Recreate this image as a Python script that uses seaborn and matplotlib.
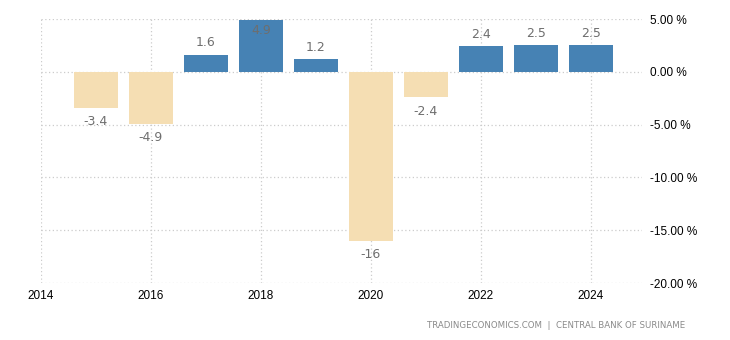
import matplotlib
matplotlib.use("Agg")
import matplotlib.pyplot as plt
import seaborn as sns
import pandas as pd
from matplotlib.ticker import FuncFormatter, MultipleLocator

years = [2015, 2016, 2017, 2018, 2019, 2020, 2021, 2022, 2023, 2024]
values = [-3.4, -4.9, 1.6, 4.9, 1.2, -16, -2.4, 2.4, 2.5, 2.5]
labels = ["-3.4", "-4.9", "1.6", "4.9", "1.2", "-16", "-2.4", "2.4", "2.5", "2.5"]
xticks = [2014, 2016, 2018, 2020, 2022, 2024]
source = "TRADINGECONOMICS.COM  |  CENTRAL BANK OF SURINAME"

sns.set_style("white")
plt.rcParams['font.family'] = ['DejaVu Sans']

df = pd.DataFrame({"year": years, "value": values})
df["sign"] = ["pos" if v >= 0 else "neg" for v in values]

fig = plt.figure(figsize=(7.3, 3.4), dpi=100)
ax = fig.add_axes([41/730, 1-283/340, (642-41)/730, (283-19)/340])

sns.barplot(data=df, x="year", y="value", hue="sign", native_scale=True,
            palette={"pos": "#4682B4", "neg": "#F5DEB3"}, dodge=False,
            width=0.8, legend=False, ax=ax, saturation=1, zorder=2,
            linewidth=0, edgecolor="none")

ax.set_xlim(2014, 2024.93)
ax.set_ylim(-20, 5)
ax.set_xticks(xticks)
ax.set_xticklabels([str(x) for x in xticks])
ax.yaxis.set_major_locator(MultipleLocator(5))
ax.yaxis.set_major_formatter(FuncFormatter(lambda v, p: f"{v:.2f} %"))
ax.yaxis.tick_right()
ax.set_xlabel("")
ax.set_ylabel("")
for s in ax.spines.values():
    s.set_visible(False)
ax.grid(True, color="#cccccc", linestyle=(0, (1, 2)), linewidth=0.9, zorder=0)
ax.set_axisbelow(True)
ax.tick_params(axis="both", length=0, colors="#000000")
ax.tick_params(axis="y", pad=6)
ax.tick_params(axis="x", pad=5)
for t in ax.get_xticklabels() + ax.get_yticklabels():
    t.set_fontfamily("Liberation Sans")
    t.set_fontsize(8.5)

ppu = (283-19)/25.0  # pixels per unit
for yr, v, lab in zip(years, values, labels):
    if v >= 0:
        ypix = min(v * ppu + 12, 5 * ppu - 11)
        ypos = ypix / ppu
    else:
        ypos = v - 14 / ppu
    ax.text(yr, ypos, lab, ha="center", va="center", fontsize=9,
            color="#6e6e6e", zorder=3)

fig.text(685/730, 1-325/340, source, ha="right", va="center",
         fontsize=6.2, color="#8a8a8a")

fig.savefig("out.png", dpi=100)
